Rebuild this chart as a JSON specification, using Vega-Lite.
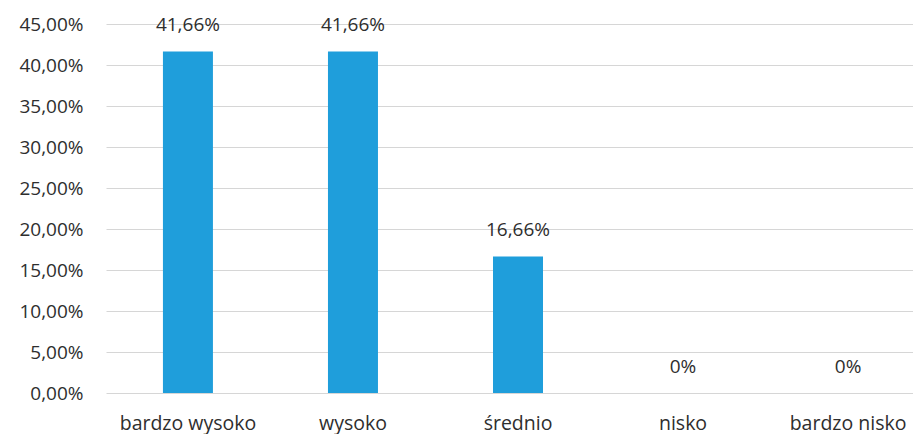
{
  "$schema": "https://vega.github.io/schema/vega-lite/v6.json",
  "autosize": {"type": "none"},
  "padding": {"left": 106, "top": 24, "right": 0, "bottom": 41},
  "width": 807,
  "height": 369,
  "background": "white",
  "config": {"view": {"stroke": null}, "font": "Open Sans"},
  "data": {"values": [
    {"kategoria": "bardzo wysoko", "udzial": 0.4166, "etykieta": "41,66%"},
    {"kategoria": "wysoko", "udzial": 0.4166, "etykieta": "41,66%"},
    {"kategoria": "średnio", "udzial": 0.1666, "etykieta": "16,66%"},
    {"kategoria": "nisko", "udzial": 0, "etykieta": "0%"},
    {"kategoria": "bardzo nisko", "udzial": 0, "etykieta": "0%"}
  ]},
  "encoding": {
    "x": {"field": "kategoria", "type": "nominal", "sort": null,
      "scale": {"range": [0, 824], "paddingInner": 0.697, "paddingOuter": 0.345},
      "axis": {"title": null, "domain": false, "ticks": false, "labelAngle": 0, "labelPadding": 21, "labelFontSize": 19.5, "labelColor": "#2e2e2e", "labelFont": "Open Sans", "labelOverlap": false}},
    "y": {"field": "udzial", "type": "quantitative",
      "scale": {"domain": [0, 0.45], "nice": false},
      "axis": {"title": null, "domain": false, "ticks": false, "values": [0,0.05,0.1,0.15,0.2,0.25,0.3,0.35,0.4,0.45],
        "labelExpr": "replace(format(datum.value, '.2%'), '.', ',')", "labelPadding": 23, "labelFontSize": 19, "labelColor": "#2e2e2e", "labelOverlap": false, "labelFont": "Open Sans",
        "gridColor": "#d6d6d6", "gridWidth": 1}}
  },
  "layer": [
    {"mark": {"type": "bar", "color": "#1f9edb"}},
    {"mark": {"type": "text", "baseline": "middle", "dy": -26, "fontSize": 19, "color": "#2e2e2e", "font": "Open Sans"},
      "encoding": {"text": {"field": "etykieta"}}}
  ]
}
